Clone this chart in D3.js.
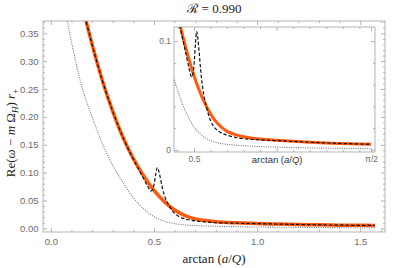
<!DOCTYPE html>
<html>
<head>
<meta charset="utf-8">
<script src="https://cdn.jsdelivr.net/npm/d3@7"></script>
<style>
body { margin: 0; background: #fff; }
svg { display: block; }
.tick text { font-family: "Liberation Sans", Arial, sans-serif; fill: #6b6b6b; }
.serif { font-family: "Liberation Serif", "Times New Roman", serif; fill: #222; white-space: pre; }
</style>
</head>
<body>
<svg id="chart" width="407" height="268"></svg>
<script>
// curve data: arctan(a/Q) vs Re(w - m Omega_H) r_+
var orangeA = [0.165, 0.20, 0.25, 0.30, 0.35, 0.40, 0.45, 0.50, 0.55, 0.60, 0.65, 0.70, 0.75, 0.80, 0.90, 1.00, 1.10, 1.20, 1.30, 1.40, 1.50, 1.5708];
var orangeRe = [0.38, 0.33, 0.265, 0.21, 0.163, 0.125, 0.094, 0.068, 0.048, 0.033, 0.023, 0.017, 0.014, 0.012, 0.010, 0.0088, 0.0078, 0.0070, 0.0063, 0.0058, 0.0054, 0.0052];

var blackA = [0.165, 0.20, 0.25, 0.30, 0.35, 0.40, 0.43, 0.45, 0.47, 0.486, 0.494, 0.502, 0.509, 0.516, 0.523, 0.530, 0.540, 0.550, 0.560, 0.575, 0.590, 0.60, 0.62, 0.65, 0.70, 0.75, 0.80, 0.90, 1.00, 1.10, 1.20, 1.30, 1.40, 1.50, 1.5708];
var blackRe = [0.38, 0.33, 0.265, 0.21, 0.163, 0.124, 0.103, 0.089, 0.075, 0.067, 0.070, 0.082, 0.098, 0.109, 0.103, 0.092, 0.074, 0.060, 0.050, 0.040, 0.031, 0.027, 0.0214, 0.017, 0.0135, 0.0115, 0.0103, 0.0092, 0.0085, 0.0077, 0.0070, 0.0063, 0.0058, 0.0054, 0.0052];

var grayA = [0.075, 0.10, 0.12, 0.15, 0.20, 0.25, 0.30, 0.35, 0.40, 0.45, 0.50, 0.55, 0.60, 0.65, 0.70, 0.80, 0.90, 1.00, 1.20, 1.40, 1.5708];
var grayRe = [0.38, 0.335, 0.30, 0.255, 0.20, 0.152, 0.113, 0.082, 0.055, 0.035, 0.021, 0.013, 0.0085, 0.0062, 0.005, 0.0038, 0.003, 0.0025, 0.0018, 0.0013, 0.001];

// tick values
var mainXTicks = [0, 0.5, 1.0, 1.5];
var mainYTicks = [0, 0.05, 0.10, 0.15, 0.20, 0.25, 0.30, 0.35];
var insetXTicks = [0.5, 1.0, Math.PI / 2];
var insetXLabels = ["0.5", "arctan (a/Q)", "\u03c0/2"];
var insetYTicks = [0, 0.1];
var insetYLabels = ["0", "0.1"];

var svg = d3.select("#chart");

// scales
var x = d3.scaleLinear().domain([-0.038, 1.62]).range([43, 385]);
var y = d3.scaleLinear().domain([-0.0065, 0.372]).range([232, 21]);
var xi = d3.scaleLinear().domain([0.379, 1.595]).range([174, 375]);
var yi = d3.scaleLinear().domain([-0.002, 0.113]).range([152, 27]);

function steps(a, b, s, skip) {
	var out = [];
	for (var v = a; v <= b + 1e-9; v += s) {
		var r = Math.round(v * 1000) / 1000;
		if (skip.every(function(k) { return Math.abs(k - r) > 1e-6; })) out.push(r);
	}
	return out;
}

function addAxis(g, axisFn, scale, transform, values, size, fmt, pad, fs) {
	var a = axisFn(scale).tickValues(values).tickSize(size).tickPadding(pad).tickFormat(fmt);
	var ag = g.append("g").attr("transform", transform).call(a);
	ag.select(".domain").remove();
	ag.selectAll("line").attr("stroke", "#b3b3b3");
	ag.selectAll("text").style("font-size", fs + "px");
	return ag;
}

function frameBox(g, xs, ys, fill) {
	g.append("rect")
		.attr("x", xs.range()[0])
		.attr("y", ys.range()[1])
		.attr("width", xs.range()[1] - xs.range()[0])
		.attr("height", ys.range()[0] - ys.range()[1])
		.attr("fill", fill)
		.attr("stroke", "#b3b3b3")
		.attr("stroke-width", 1);
}

function drawCurves(g, xs, ys, clipId, ow) {
	var cg = g.append("g").attr("clip-path", "url(#" + clipId + ")");
	var line = d3.line()
		.x(function(d) { return xs(d[0]); })
		.y(function(d) { return ys(d[1]); })
		.curve(d3.curveMonotoneX);

	cg.append("path")
		.attr("d", line(d3.zip(grayA, grayRe)))
		.attr("fill", "none")
		.attr("stroke", "#7f7f7f")
		.attr("stroke-width", 1.1)
		.attr("stroke-dasharray", "1.1,1.2");

	cg.append("path")
		.attr("d", line(d3.zip(orangeA, orangeRe)))
		.attr("fill", "none")
		.attr("stroke", "#ff5a0e")
		.attr("stroke-width", ow);

	cg.append("path")
		.attr("d", line(d3.zip(blackA, blackRe)))
		.attr("fill", "none")
		.attr("stroke", "#111")
		.attr("stroke-width", 1.2)
		.attr("stroke-dasharray", "3.5,2");
}

var defs = svg.append("defs");
[["clipMain", x, y], ["clipInset", xi, yi]].forEach(function(c) {
	defs.append("clipPath").attr("id", c[0]).append("rect")
		.attr("x", c[1].range()[0])
		.attr("y", c[2].range()[1])
		.attr("width", c[1].range()[1] - c[1].range()[0])
		.attr("height", c[2].range()[0] - c[2].range()[1]);
});

// ---- main panel
var main = svg.append("g");
frameBox(main, x, y, "none");
drawCurves(main, x, y, "clipMain", 3.5);

var mxMinor = steps(0, 1.6, 0.1, mainXTicks);
var myMinor = steps(0, 0.37, 0.01, mainYTicks);
addAxis(main, d3.axisBottom, x, "translate(0,232)", mainXTicks, -4, d3.format(".1f"), 6, 9.5);
addAxis(main, d3.axisBottom, x, "translate(0,232)", mxMinor, -2, "", 6, 9.5);
addAxis(main, d3.axisTop, x, "translate(0,21)", mainXTicks, -4, "", 3, 9.5);
addAxis(main, d3.axisTop, x, "translate(0,21)", mxMinor, -2, "", 3, 9.5);
addAxis(main, d3.axisLeft, y, "translate(43,0)", mainYTicks, -4, d3.format(".2f"), 4.5, 9.5);
addAxis(main, d3.axisLeft, y, "translate(43,0)", myMinor, -2, "", 4, 9.5);
addAxis(main, d3.axisRight, y, "translate(385,0)", mainYTicks, -4, "", 3, 9.5);
addAxis(main, d3.axisRight, y, "translate(385,0)", myMinor, -2, "", 3, 9.5);

// ---- inset panel
var inset = svg.append("g");
frameBox(inset, xi, yi, "#fff");
drawCurves(inset, xi, yi, "clipInset", 3);

var ixMinor = steps(0.4, 1.5, 0.1, [0.5, 1.0]);
var iyMinor = steps(0.02, 0.1, 0.02, insetYTicks);
var ixAx = addAxis(inset, d3.axisBottom, xi, "translate(0,152)", insetXTicks, -4,
	function(d, i) { return insetXLabels[i]; }, 4, 8.5);
addAxis(inset, d3.axisBottom, xi, "translate(0,152)", ixMinor, -2, "", 4, 8.5);
addAxis(inset, d3.axisTop, xi, "translate(0,27)", insetXTicks, -4, "", 3, 8.5);
addAxis(inset, d3.axisTop, xi, "translate(0,27)", ixMinor, -2, "", 3, 8.5);
addAxis(inset, d3.axisLeft, yi, "translate(174,0)", insetYTicks, -4,
	function(d, i) { return insetYLabels[i]; }, 3, 8.5);
addAxis(inset, d3.axisLeft, yi, "translate(174,0)", iyMinor, -2, "", 3, 8.5);
addAxis(inset, d3.axisRight, yi, "translate(375,0)", insetYTicks, -4, "", 3, 8.5);
addAxis(inset, d3.axisRight, yi, "translate(375,0)", iyMinor, -2, "", 3, 8.5);

// inset middle tick label is the axis name, set in serif with italics
ixAx.selectAll(".tick text").filter(function(d) { return d === 1.0; })
	.each(function() {
		var t = d3.select(this).text("").attr("class", "serif").style("font-size", "9.5px").style("fill", "#333");
		t.append("tspan").text("arctan (");
		t.append("tspan").style("font-style", "italic").text("a");
		t.append("tspan").text("/");
		t.append("tspan").style("font-style", "italic").text("Q");
		t.append("tspan").text(")");
	});

// ---- titles
var title = svg.append("text").attr("class", "serif")
	.attr("x", 214).attr("y", 13).attr("text-anchor", "middle")
	.style("font-size", "13px");
title.append("tspan").text("\u211b");
title.append("tspan").attr("dx", 4).text("= 0.990");

var xt = svg.append("text").attr("class", "serif")
	.attr("x", 214).attr("y", 263).attr("text-anchor", "middle")
	.style("font-size", "13px");
xt.append("tspan").text("arctan (");
xt.append("tspan").style("font-style", "italic").text("a");
xt.append("tspan").text("/");
xt.append("tspan").style("font-style", "italic").text("Q");
xt.append("tspan").text(")");

var yt = svg.append("text").attr("class", "serif")
	.attr("transform", "translate(15,133) rotate(-90)")
	.attr("text-anchor", "middle")
	.style("font-size", "13px");
yt.append("tspan").text("Re(");
yt.append("tspan").style("font-style", "italic").text("\u03c9");
yt.append("tspan").text(" \u2212 ");
yt.append("tspan").style("font-style", "italic").text("m");
yt.append("tspan").text(" \u03a9");
yt.append("tspan").style("font-style", "italic").style("font-size", "9px").attr("dy", 3).text("H");
yt.append("tspan").attr("dy", -3).text(") ");
yt.append("tspan").style("font-style", "italic").text("r");
yt.append("tspan").style("font-size", "9px").attr("dy", 3).text("+");
</script>
</body>
</html>
